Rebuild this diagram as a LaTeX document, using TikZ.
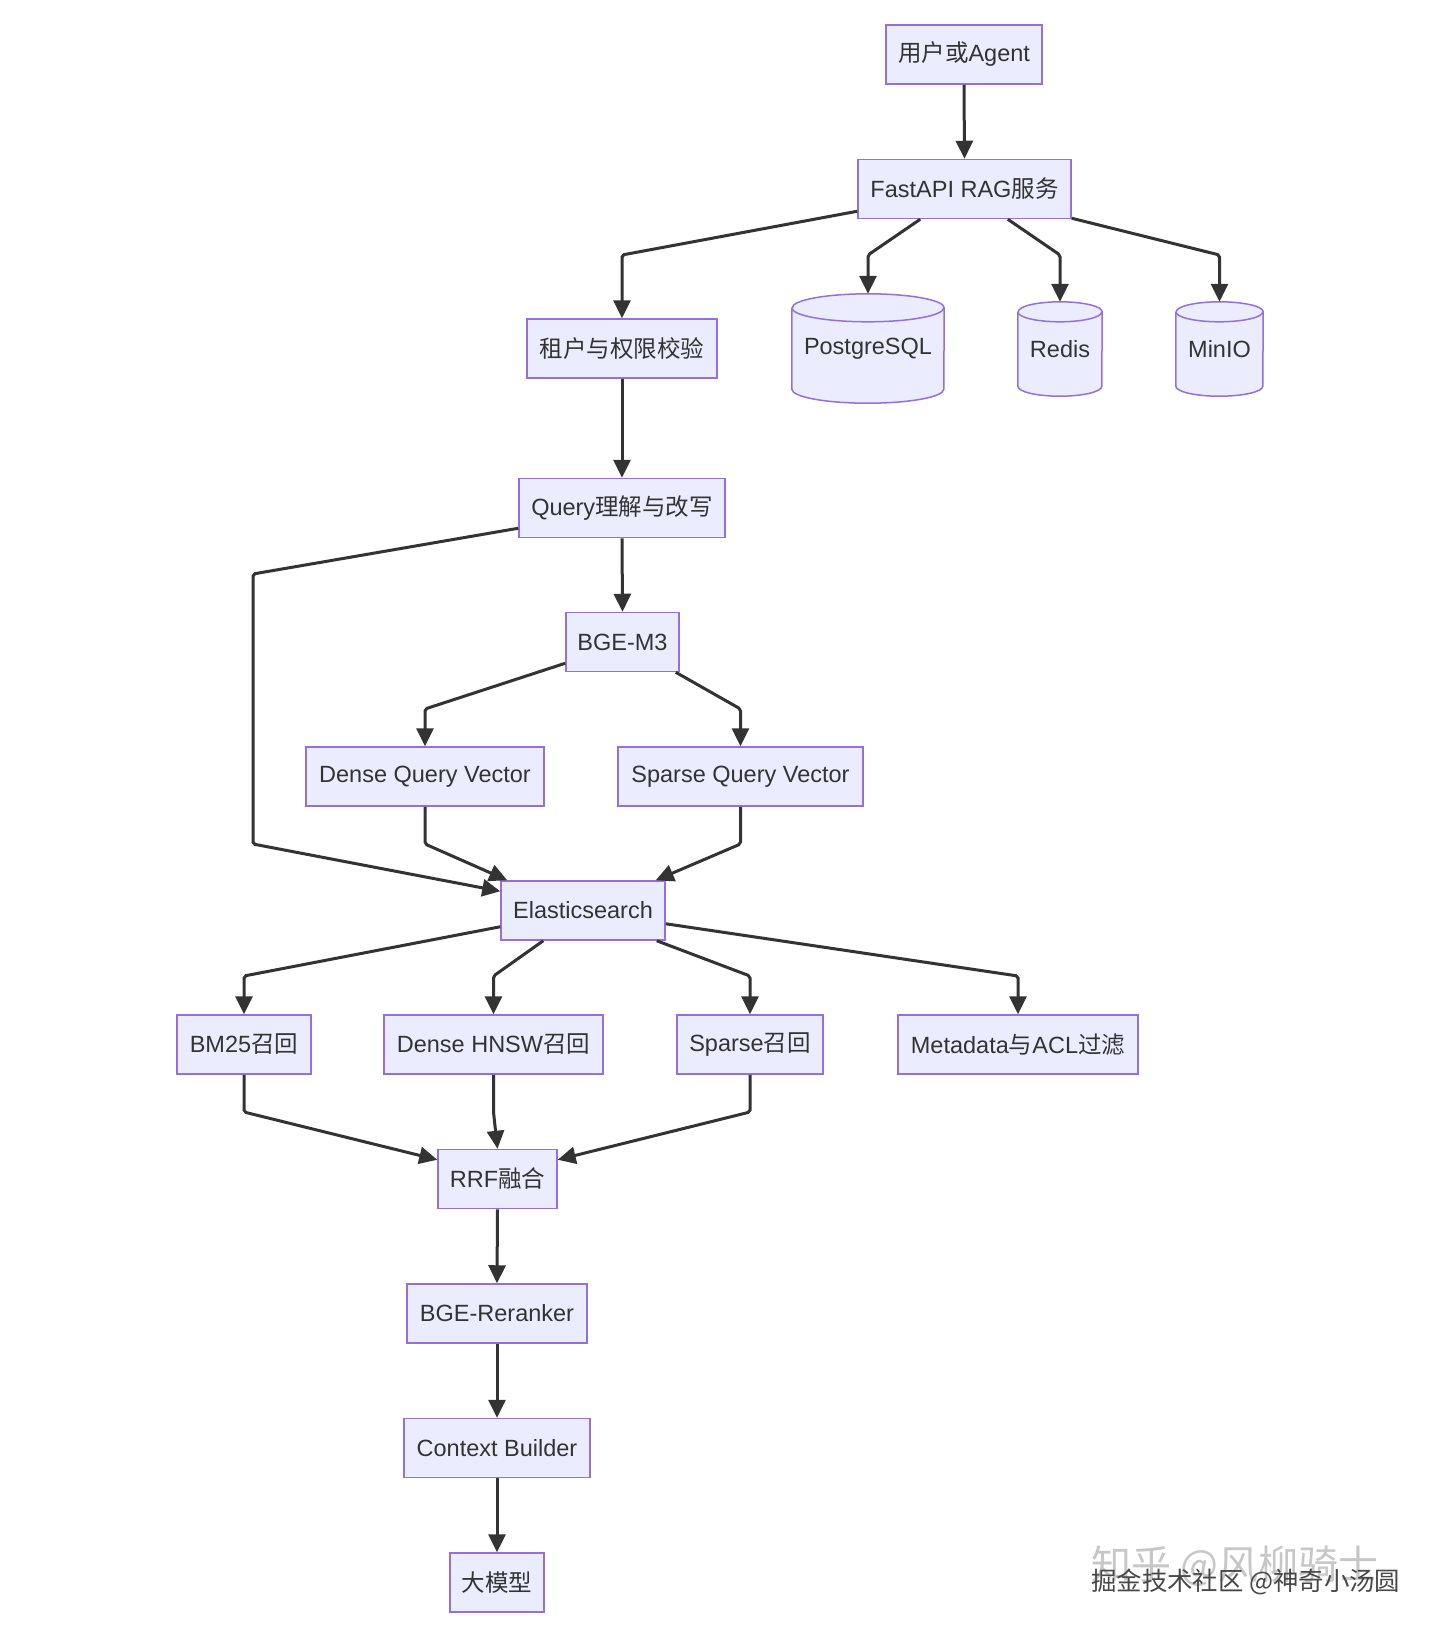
\documentclass[tikz,border=0pt]{standalone}
\usepackage{fontspec}
\setmainfont{Liberation Sans}
\newfontfamily\cjk{Noto Sans CJK SC}
\usetikzlibrary{arrows.meta,backgrounds}
\definecolor{boxfill}{HTML}{ECECFF}
\definecolor{boxline}{HTML}{9370DB}
\definecolor{edgec}{HTML}{333333}
\definecolor{txt}{HTML}{333333}
\newcommand\drawcyl[3]{%
  \path[fill=boxfill] ([yshift=-#3pt]#1.north west) -- ([yshift=#3pt]#1.south west)
    arc[start angle=180,end angle=360,x radius=#2pt,y radius=#3pt]
    -- ([yshift=-#3pt]#1.north east)
    arc[start angle=0,end angle=180,x radius=#2pt,y radius=#3pt] -- cycle;
  \draw[draw=boxline,line width=1.5pt] ([yshift=-#3pt]#1.north west) -- ([yshift=#3pt]#1.south west)
    arc[start angle=180,end angle=360,x radius=#2pt,y radius=#3pt]
    -- ([yshift=-#3pt]#1.north east)
    arc[start angle=0,end angle=180,x radius=#2pt,y radius=#3pt];
  \draw[draw=boxline,line width=1.5pt] ([yshift=-#3pt]#1.north west)
    arc[start angle=180,end angle=360,x radius=#2pt,y radius=#3pt];
}
\begin{document}
\begin{tikzpicture}[x=1pt,y=1pt,
  box/.style={draw=boxline, fill=boxfill, line width=1.5pt, minimum height=59pt,
    inner sep=0pt, font=\fontsize{23.5}{28}\selectfont, text=txt},
  cylnode/.style={inner sep=0pt, font=\fontsize{23.5}{28}\selectfont, text=txt},
  arr/.style={draw=edgec, line width=3pt, rounded corners=2pt,
    -{Triangle[length=18pt,width=17pt]}}]
\useasboundingbox (0,0) rectangle (1440,-1634);

% nodes
\node[box, minimum width=156pt] (user) at (964,-54.5) {{\cjk 用户或}Agent};
\node[box, minimum width=213pt] (fast) at (964.5,-189) {FastAPI RAG{\cjk 服务}};
\node[box, minimum width=190pt] (ten) at (622,-348.5) {{\cjk 租户与权限校验}};
\node[cylnode, minimum width=152pt, minimum height=109pt] (pg) at (868,-348.5) {PostgreSQL};
\node[cylnode, minimum width=84pt, minimum height=94pt] (redis) at (1060,-349) {Redis};
\node[cylnode, minimum width=87pt, minimum height=94pt] (minio) at (1219.5,-349) {MinIO};
\node[box, minimum width=206pt] (query) at (622,-508) {Query{\cjk 理解与改写}};
\node[box, minimum width=113pt] (bge) at (622.5,-642) {BGE-M3};
\node[box, minimum width=238pt] (dqv) at (425,-776.5) {Dense Query Vector};
\node[box, minimum width=245pt] (sqv) at (740.5,-776.5) {Sparse Query Vector};
\node[box, minimum width=164pt] (es) at (583,-910.5) {Elasticsearch};
\node[box, minimum width=134pt] (bm25) at (244,-1044.5) {BM25{\cjk 召回}};
\node[box, minimum width=219pt] (hnsw) at (493.5,-1044.5) {Dense HNSW{\cjk 召回}};
\node[box, minimum width=146pt] (sparse) at (750,-1044.5) {Sparse{\cjk 召回}};
\node[box, minimum width=240pt] (meta) at (1018,-1044.5) {Metadata{\cjk 与}ACL{\cjk 过滤}};
\node[box, minimum width=119pt] (rrf) at (497.5,-1179) {RRF{\cjk 融合}};
\node[box, minimum width=180pt] (rerank) at (497,-1313.5) {BGE-Reranker};
\node[box, minimum width=186pt] (ctx) at (497,-1448) {Context Builder};
\node[box, minimum width=94pt] (llm) at (497,-1582.5) {{\cjk 大模型}};

\begin{scope}[on background layer]
  \fill[white] (0,0) rectangle (1440,-1634);
  \drawcyl{pg}{76}{14}
  \drawcyl{redis}{42}{10}
  \drawcyl{minio}{43.5}{10}
\end{scope}

% edges
\draw[arr] (user.south) -- (fast.north);
\draw[arr] ([yshift=8pt]fast.south west) -- (622,-255) -- (ten.north);
\draw[arr] ([xshift=63pt]fast.south west) -- (868,-255) -- (pg.north);
\draw[arr] ([xshift=-64pt]fast.south east) -- (1060,-255) -- (redis.north);
\draw[arr] ([yshift=1pt]fast.south east) -- (1219.5,-255) -- (minio.north);
\draw[arr] (ten.south) -- (query.north);
\draw[arr] (query.south) -- (bge.north);
\draw[arr] ([yshift=10pt]query.south west) -- (253,-574) -- (253,-844) -- ([yshift=-11pt]es.north west);
\draw[arr] ([yshift=9pt]bge.south west) -- (425,-709) -- (dqv.north);
\draw[arr] ([xshift=-4pt]bge.south east) -- (740.5,-709) -- (sqv.north);
\draw[arr] (dqv.south) -- (425,-844) -- ([xshift=7pt]es.north west);
\draw[arr] (sqv.south) -- (740.5,-844) -- ([xshift=-10pt]es.north east);
\draw[arr] ([yshift=14pt]es.south west) -- (244,-976) -- (bm25.north);
\draw[arr] ([xshift=43pt]es.south west) -- (493.5,-976) -- (hnsw.north);
\draw[arr] ([xshift=-9pt]es.south east) -- (750,-976) -- (sparse.north);
\draw[arr] ([yshift=17pt]es.south east) -- (1018,-976) -- (meta.north);
\draw[arr] (bm25.south) -- (244,-1112) -- ([yshift=-11pt]rrf.north west);
\draw[arr] (hnsw.south) -- (493.5,-1112) -- (rrf.north);
\draw[arr] (sparse.south) -- (750,-1112) -- ([yshift=-11pt]rrf.north east);
\draw[arr] (rrf.south) -- (rerank.north);
\draw[arr] (rerank.south) -- (ctx.north);
\draw[arr] (ctx.south) -- (llm.north);

% watermark
\node[anchor=west, inner sep=0pt, text=black!22, font=\cjk\fontsize{40}{44}\selectfont] (wm1) at (1091,-1566) {知乎 @风柳骑士};
\node[anchor=west, inner sep=0pt, text=black!72, font=\cjk\fontsize{25.4}{29}\selectfont] (wm2) at (1091,-1582) {掘金技术社区 @神奇小汤圆};
\end{tikzpicture}
\end{document}
